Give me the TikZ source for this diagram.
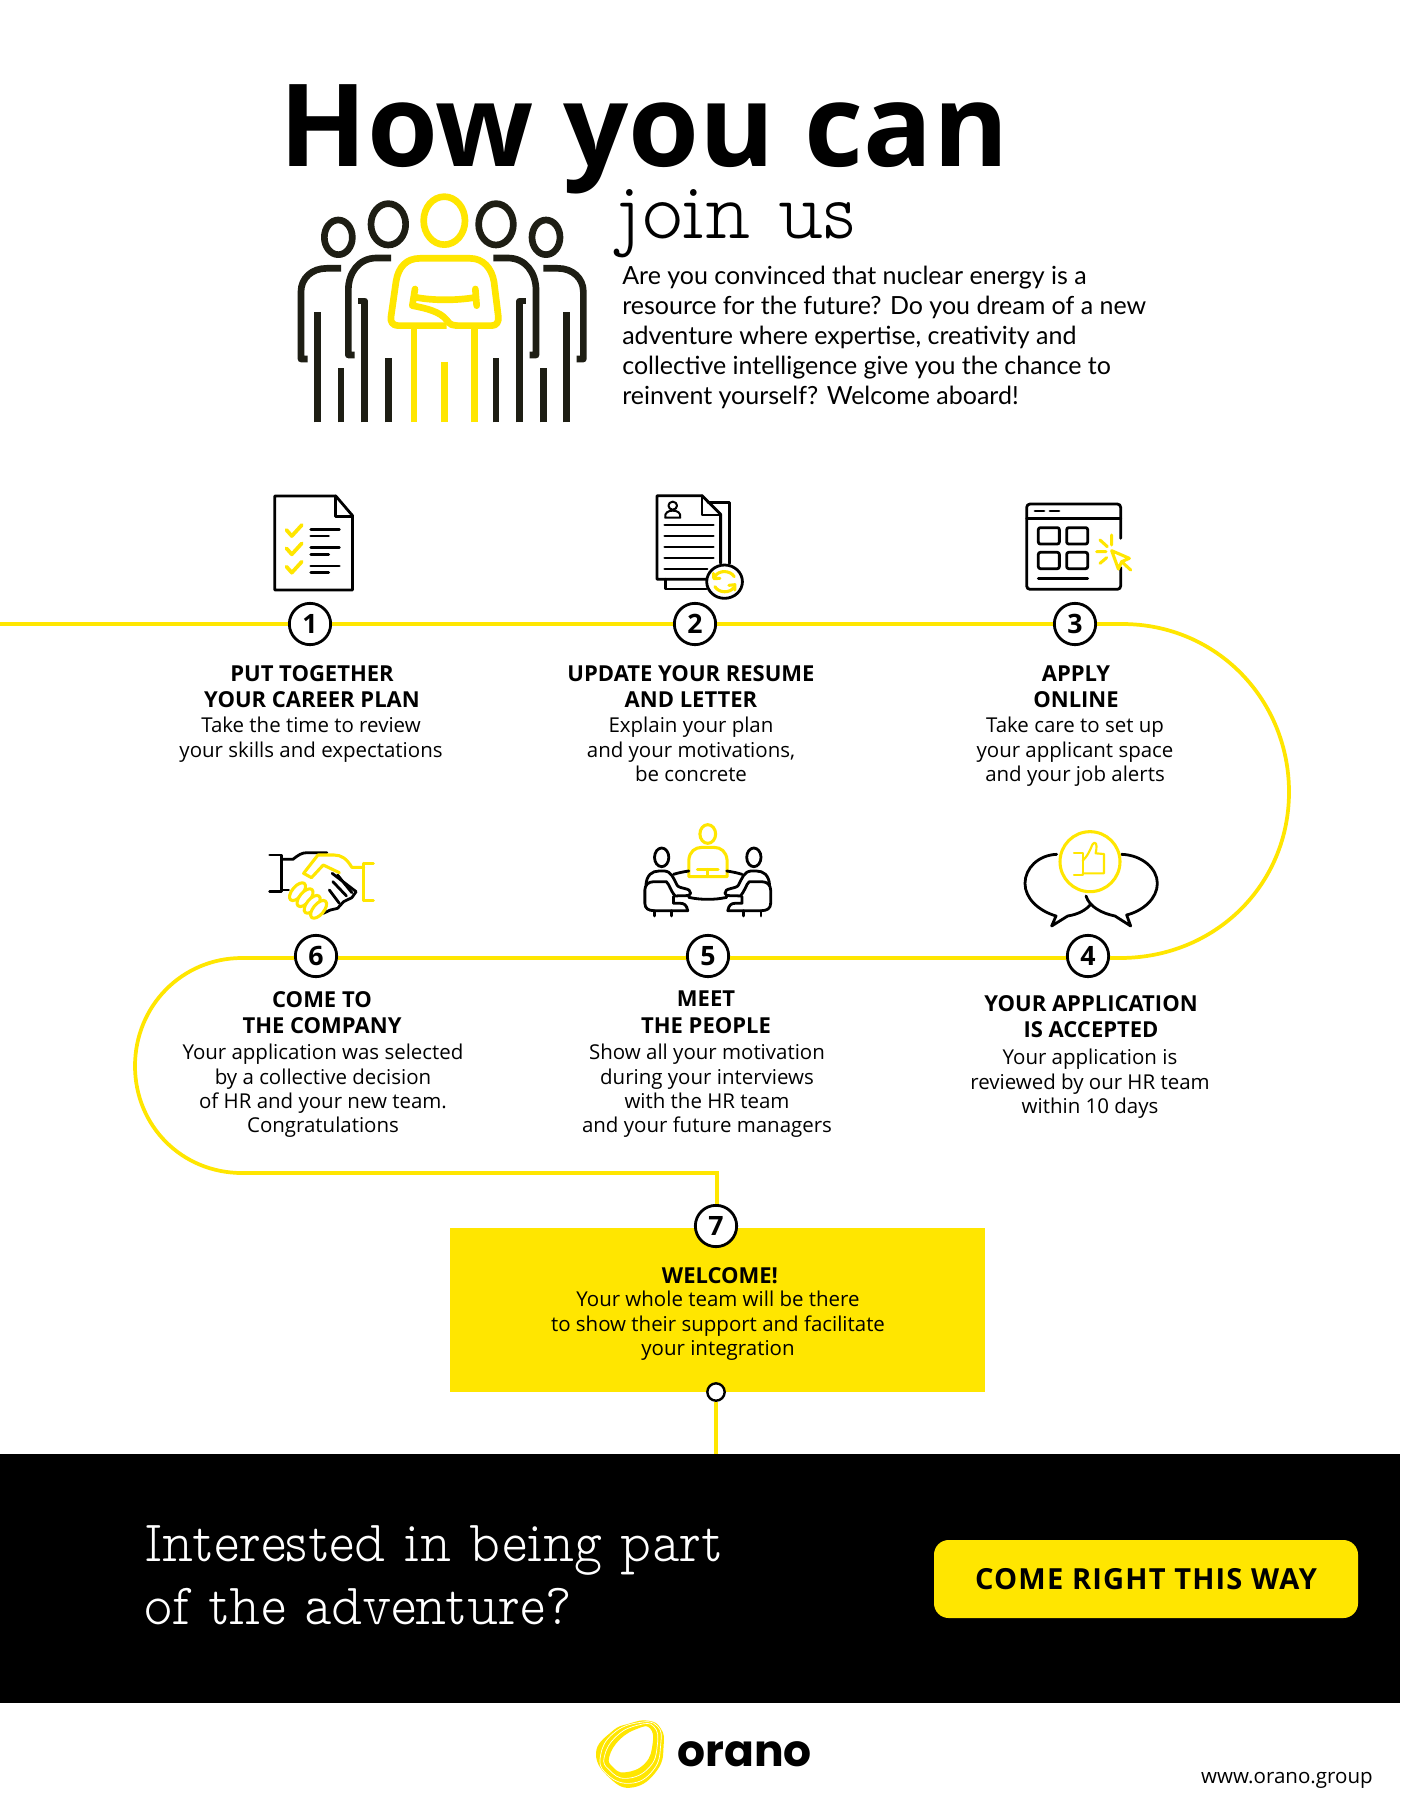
\documentclass[tikz,border=0pt]{standalone}
\usepackage{fontspec}
\setmainfont{Open Sans}
\newfontfamily\lat{Lato}
\newfontfamily\pop{Poppins}
\newfontfamily\slab{Latin Modern Mono Prop Light}
\newfontfamily\spaced[LetterSpace=4]{Open Sans}
\definecolor{oy}{HTML}{FFE600}
\definecolor{ink}{HTML}{000000}
\definecolor{dk}{HTML}{1E1E14}
\newcommand{\fs}[2]{\fontsize{#1pt}{#2pt}\selectfont}
\begin{document}
\begin{tikzpicture}[x=.75pt,y=-.75pt,
  badge/.style={circle,draw=ink,fill=white,line width=2.1pt,minimum size=31pt,inner sep=0pt,font=\bfseries\fs{20}{20}},
  tinybadge/.style={circle,draw=ink,fill=white,line width=1.8pt,minimum size=13pt,inner sep=0pt},
  route/.style={draw=oy,line width=2.8pt},
  headtxt/.style={anchor=north,align=center,inner sep=0pt,font=\bfseries\fs{16.5}{19.7}},
  bodytxt/.style={anchor=north,align=center,inner sep=0pt,font=\fs{15.35}{18.25}},
  pk/.style={draw=dk,line width=5pt,line join=round},
  py/.style={draw=oy,line width=5pt,line join=round},
  ik/.style={draw=ink,line width=2.1pt,line join=round,line cap=round},
  iy/.style={draw=oy,line width=2.3pt,line join=round,line cap=round},
  zoomA/.style={x=.25pt,y=-.25pt},
  zoomB/.style={x=.268pt,y=-.25pt}]
\useasboundingbox (0,0) rectangle (1400,1808);
\fill[white] (0,0) rectangle (1400,1808);

% bands
\node[fill=oy,minimum width=401.25pt,minimum height=123pt,inner sep=0pt,anchor=north west] (box) at (450,1228) {};
\node[fill=black,minimum width=1050pt,minimum height=186.75pt,inner sep=0pt,anchor=north west] (band) at (0,1454) {};

% title
\node[anchor=base,inner sep=0pt,font=\bfseries\fs{86}{86}] (title) at (644,167) {How you can};
\node[anchor=base west,inner sep=0pt,xscale=.94,font=\slab\fs{62}{62}] (join) at (617,239) {join us};
\node[anchor=north west,align=left,inner sep=0pt,font=\lat\fs{18.75}{22.5}] (intro) at (622,266) {Are you convinced that nuclear energy is a\\resource for the future? Do you dream of a new\\adventure where expertise, creativity and\\collective intelligence give you the chance to\\reinvent yourself? Welcome aboard!};

% badges
\node[badge] (n1) at (310,624) {1};
\node[badge] (n2) at (695,624) {2};
\node[badge] (n3) at (1075,624) {3};
\node[badge] (n4) at (1088,956) {4};
\node[badge] (n5) at (708,956) {5};
\node[badge] (n6) at (316,956) {6};
\node[badge] (n7) at (716,1226) {7};
\node[tinybadge] (n8) at (716,1392) {};
\coordinate (start) at (0,624);
\coordinate (endp) at (716,1454);
\coordinate (cr) at (1289,792);
\coordinate (cl) at (135,1066);
\coordinate (cb) at (717,1173);

% route
\draw[route] (start) -- (n1) -- (n2) -- (n3);
\draw[route] (n3.east) -- ++(25,0) .. controls +(95,0) and (1289,700) .. (cr) .. controls (1289,885) and (1215,958) .. (1120,958) -- ([yshift=-1.5pt]n4.east);
\draw[route] ([yshift=-1.5pt]n4.west) -- ([yshift=-1.5pt]n5.east);
\draw[route] ([yshift=-1.5pt]n5.west) -- ([yshift=-1.5pt]n6.east);
\draw[route] ([yshift=-1.5pt]n6.west) -- (242,958) .. controls (182,958) and (135,1006) .. (cl) .. controls (135,1126) and (182,1173) .. (242,1173) -- (cb) -- ([xshift=.75pt]n7.north);
\draw[route] (n8) -- (endp);

% texts
\node[headtxt] (h1) at (312,665) {PUT TOGETHER\\YOUR CAREER PLAN};
\node[bodytxt] (b1) at (311,717) {Take the time to review\\your skills and expectations};
\node[headtxt] (h2) at (691,665) {UPDATE YOUR RESUME\\AND LETTER};
\node[bodytxt] (b2) at (691,717) {Explain your plan\\and your motivations,\\be concrete};
\node[headtxt] (h3) at (1076,665) {APPLY\\ONLINE};
\node[bodytxt] (b3) at (1075,717) {Take care to set up\\your applicant space\\and your job alerts};
\node[headtxt] (h6) at (322,991) {COME TO\\THE COMPANY};
\node[bodytxt] (b6) at (323,1044) {Your application was selected\\by a collective decision\\of HR and your new team.\\Congratulations};
\node[headtxt] (h5) at (706,991) {MEET\\THE PEOPLE};
\node[bodytxt] (b5) at (707,1044) {Show all your motivation\\during your interviews\\with the HR team\\and your future managers};
\node[headtxt] (h4) at (1091,995) {YOUR APPLICATION\\IS ACCEPTED};
\node[bodytxt] (b4) at (1090,1049) {Your application is\\reviewed by our HR team\\within 10 days};
\node[headtxt] (h7) at (720,1267) {WELCOME!};
\node[bodytxt] (b7) at (718,1291) {Your whole team will be there\\to show their support and facilitate\\your integration};

% footer band
\node[anchor=north west,align=left,inner sep=0pt,text=white,xscale=.91,font=\slab\fs{44}{47.5}] (ask) at (144,1525) {Interested in being part\\of the adventure?};
\node[fill=oy,rounded corners=11pt,minimum width=318pt,minimum height=58.5pt,inner sep=0pt,font=\spaced\bfseries\fs{21.8}{21.8}] (btn) at (1146,1579) {COME RIGHT THIS WAY};
\node[anchor=base east,inner sep=0pt,font=\fs{15.4}{15.4}] (url) at (1373,1783) {www.orano.group};
\node[anchor=base west,inner sep=0pt,font=\pop\bfseries\fs{33}{33}] (orano) at (677,1766) {orano};

% people icon
\begin{scope}[shift={(270,60)},zoomA]
\draw[py] (523,482) ellipse (62 and 72);
\foreach \x in {355,678}{\draw[pk] (\x,493) ellipse (52 and 62);}
\foreach \x in {205,828}{\draw[pk] (\x,532) ellipse (42 and 52);}
\foreach \s/\o in {1/0,-1/1033}{
 \begin{scope}[shift={(\o,0)},xscale=\s]
 \draw[pk] (363,594) -- (320,594) .. controls (265,594) and (235,640) .. (235,690) -- (235,885) -- (254,885);
 \draw[pk] (213,625) -- (170,625) .. controls (125,625) and (93,655) .. (93,695) -- (93,897) -- (113,897);
 \draw[pk] (143,1087) -- (143,757);
 \draw[pk] (213,1087) -- (213,925);
 \draw[pk] (284,1087) -- (284,723) -- (265,723);
 \draw[pk] (355,1087) -- (355,895);
 \end{scope}}
\draw[py] (530,797) -- (385,797) .. controls (368,797) and (360,785) .. (363,770) -- (378,665) .. controls (385,620) and (410,595) .. (450,595) -- (600,595) .. controls (640,595) and (665,625) .. (672,665) -- (685,770) .. controls (687,785) and (680,797) .. (665,797) -- (560,797);
\draw[py,line cap=round] (435,687) -- (427,737) .. controls (470,745) and (510,755) .. (530,780) .. controls (540,795) and (550,797) .. (560,797);
\draw[py,line cap=round] (437,712) .. controls (490,722) and (560,722) .. (617,712);
\draw[py,line cap=round] (616,687) -- (620,737);
\draw[py] (432,800) -- (432,1087);
\draw[py] (614,800) -- (614,1087);
\draw[py] (523,905) -- (523,1087);
\end{scope}

% checklist icon
\begin{scope}[shift={(240,480)},zoomB]
\draw[ik] (97,48) -- (268,48) -- (315,107) -- (315,330) -- (97,330) -- cycle;
\draw[ik] (268,48) -- (268,110) -- (315,110);
\foreach \d in {0,55,110}{
 \draw[iy,line width=2.8pt] (130,150+\d) -- (145,168+\d) -- (173,135+\d);
 \draw[ik] (198,148+\d) -- (278,148+\d);
 \draw[ik] (198,168+\d) -- (248,168+\d);
}
% resume icon
\draw[ik] (1310,67) -- (1370,67) -- (1370,250);
\draw[ik] (1190,298) -- (1190,327) -- (1305,327);
\draw[ik] (1345,250) -- (1345,103) -- (1293,47) -- (1167,47) -- (1167,298) -- (1305,298);
\draw[ik] (1293,47) -- (1293,105) -- (1345,105);
\draw[ik,line width=1.5pt] (1211,77) circle (12);
\draw[ik,line width=1.5pt] (1190,113) .. controls (1188,98) and (1198,92) .. (1211,92) .. controls (1224,92) and (1234,98) .. (1232,113) -- cycle;
\foreach \y in {135,168,201,234}{\draw[ik,line width=1.6pt] (1188,\y) -- (1325,\y);}
\draw[ik,line width=1.6pt] (1188,267) -- (1308,267);
\draw[ik,fill=white] (1356,305) circle (50);
\draw[iy] (1330,288) .. controls (1340,270) and (1372,270) .. (1383,290);
\draw[iy] (1382,322) .. controls (1372,340) and (1340,340) .. (1329,320);
\draw[iy] (1325,280) -- (1326,296) -- (1343,295);
\draw[iy] (1385,330) -- (1385,314) -- (1368,316);
\end{scope}

% window icon
\begin{scope}[shift={(1000,480)},zoomA]
\draw[ik,rounded corners=2.5pt] (362,175) -- (362,72) -- (80,72) -- (80,328) -- (362,328) -- (362,262);
\draw[ik] (80,115) -- (362,115);
\draw[ik] (105,93) -- (132,93) (150,93) -- (177,93);
\foreach \x/\y in {115/143,200/143,115/217,200/217}{\draw[ik,rounded corners=1.5pt] (\x,\y) rectangle +(63,49);}
\draw[ik] (115,295) -- (263,295);
\draw[iy] (335,165) -- (335,195) (300,180) -- (322,200) (290,215) -- (318,215) (300,250) -- (320,233);
\draw[iy] (335,212) -- (388,235) -- (365,245) -- (355,267) -- cycle;
\draw[iy] (365,245) -- (392,270);
\end{scope}

% handshake icon
\begin{scope}[shift={(250,810)},zoomB]
\draw[ik] (55,135) -- (88,135) -- (88,245) -- (55,245);
\draw[ik] (88,148) -- (120,148) .. controls (135,135) and (145,128) .. (160,128) -- (215,128);
\draw[ik] (88,240) -- (108,240);
\draw[ik] (230,190) -- (297,245) -- (285,263) -- (262,275) -- (245,295) -- (225,300) -- (205,310);
\draw[ik] (232,215) -- (270,258);
\draw[ik] (245,195) -- (285,248);
\draw[ik] (222,240) -- (250,280);
\draw[iy] (318,160) -- (345,160) (318,272) -- (345,272);
\draw[iy] (318,160) -- (318,272);
\draw[iy] (318,172) -- (285,172) .. controls (270,145) and (255,135) .. (235,135) -- (190,135) -- (150,190) -- (172,203) -- (205,165) -- (250,188);
\foreach \x/\y in {133/245,154/263,174/283,192/298}{\draw[iy,fill=white,rotate around={50:(\x,\y)}] (\x,\y) ellipse (30 and 16);}
% meeting icon
\draw[iy] (1281,72) ellipse (22 and 28);
\draw[iy] (1228,200) -- (1228,150) .. controls (1230,125) and (1245,112) .. (1265,112) -- (1298,112) .. controls (1318,112) and (1333,125) .. (1335,150) -- (1335,200) -- cycle;
\draw[iy] (1252,178) -- (1310,178) (1281,178) -- (1281,200);
\draw[ik] (1228,262) .. controls (1260,270) and (1302,270) .. (1334,262);
\foreach \s/\o in {1/0,-1/2562}{
 \begin{scope}[shift={(\o,0)},xscale=\s]
 \draw[ik] (1152,142) ellipse (20 and 28);
 \draw[ik] (1185,193) .. controls (1200,188) and (1215,185) .. (1228,183);
 \draw[ik] (1108,225) .. controls (1110,195) and (1125,183) .. (1145,183) -- (1160,183) .. controls (1180,185) and (1185,205) .. (1195,225) .. controls (1200,238) and (1235,232) .. (1233,250) .. controls (1232,262) and (1205,255) .. (1190,258) .. controls (1175,240) and (1175,225) .. (1165,215) -- (1130,215) .. controls (1115,215) and (1105,225) .. (1105,240) -- (1105,280) .. controls (1105,295) and (1115,302) .. (1130,302) -- (1225,302) .. controls (1222,285) and (1215,280) .. (1205,280) -- (1185,280) -- (1185,260);
 \draw[ik] (1132,302) -- (1132,318) (1180,302) -- (1180,318);
 \end{scope}}
\end{scope}

% bubbles icon
\begin{scope}[shift={(1000,820)},zoomA]
\draw[ik] (170,103) .. controls (115,105) and (75,145) .. (75,190) .. controls (75,235) and (115,272) .. (168,288) -- (155,318) -- (203,288) .. controls (235,283) and (258,270) .. (272,253);
\draw[ik] (365,103) .. controls (425,105) and (472,145) .. (472,190) .. controls (472,235) and (430,272) .. (380,285) -- (392,318) -- (345,288) .. controls (305,280) and (268,260) .. (258,228);
\draw[iy] (270,125) circle (90);
\draw[iy,line width=1.6pt] (222,98) -- (248,98) -- (248,165) -- (222,165);
\draw[iy,line width=1.6pt] (248,160) -- (312,160) -- (312,102) -- (287,100) .. controls (290,85) and (292,68) .. (283,68) .. controls (275,68) and (272,100) .. (248,122);
\end{scope}

% logo
\begin{scope}[shift={(570,1700)},zoomA]
\fill[oy,even odd rule] plot[smooth cycle,tension=.8] coordinates {(235,62) (272,85) (281,135) (262,210) (190,262) (120,235) (78,160) (125,95) (180,70)}
 plot[smooth cycle,tension=.8] coordinates {(118,170) (150,118) (205,85) (240,85) (248,130) (225,190) (165,217) (128,200)};
\draw[white,line width=.5pt] plot[smooth cycle,tension=.8] coordinates {(103,170) (140,108) (205,75) (252,80) (262,135) (238,202) (170,235) (118,210)};
\draw[white,line width=.5pt] plot[smooth cycle,tension=.8] coordinates {(92,165) (130,100) (205,68) (262,78) (272,135) (250,210) (180,250) (108,220)};
\end{scope}
\end{tikzpicture}
\end{document}
